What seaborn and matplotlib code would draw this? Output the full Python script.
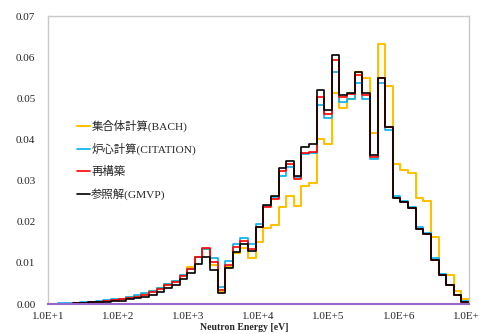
import numpy as np
import pandas as pd
import matplotlib
matplotlib.use("Agg")
import matplotlib.pyplot as plt
from matplotlib.ticker import FixedLocator, NullLocator
import seaborn as sns

# 55-group fast structure, lethargy width 0.25 from 10 MeV (lowest bound 10 eV)
e_top = 1.0e7
du = 0.25
n_groups = 55

# group fluxes from low energy to high energy
bach = [0.0001, 0.0001, 0.0001, 0.0002, 0.0003, 0.0005, 0.0006, 0.0008, 0.0010, 0.0012,
        0.0016, 0.0020, 0.0025, 0.0031, 0.0039, 0.0048, 0.0057, 0.0070, 0.0089, 0.0115,
        0.0134, 0.0095, 0.0030, 0.0089, 0.0123, 0.0135, 0.0113, 0.0151, 0.0184, 0.0192,
        0.0235, 0.0263, 0.0239, 0.0288, 0.0293, 0.0400, 0.0388, 0.0514, 0.0476, 0.0498,
        0.0565, 0.0549, 0.0416, 0.0632, 0.0530, 0.0340, 0.0326, 0.0318, 0.0258, 0.0251,
        0.0164, 0.0070, 0.0070, 0.0032, 0.0012]
citation = [0.0001, 0.0002, 0.0002, 0.0003, 0.0004, 0.0005, 0.0007, 0.0009, 0.0011, 0.0013,
            0.0017, 0.0021, 0.0026, 0.0032, 0.0039, 0.0048, 0.0057, 0.0070, 0.0085, 0.0114,
            0.0134, 0.0111, 0.0041, 0.0105, 0.0145, 0.0161, 0.0147, 0.0194, 0.0237, 0.0259,
            0.0311, 0.0334, 0.0308, 0.0365, 0.0368, 0.0484, 0.0451, 0.0563, 0.0492, 0.0498,
            0.0536, 0.0498, 0.0352, 0.0538, 0.0423, 0.0262, 0.0250, 0.0236, 0.0186, 0.0172,
            0.0112, 0.0072, 0.0047, 0.0023, 0.0007]
recon = [0.0001, 0.0001, 0.0001, 0.0002, 0.0003, 0.0004, 0.0006, 0.0007, 0.0009, 0.0011,
         0.0014, 0.0018, 0.0023, 0.0029, 0.0036, 0.0045, 0.0054, 0.0068, 0.0084, 0.0115,
         0.0135, 0.0103, 0.0034, 0.0095, 0.0139, 0.0154, 0.0133, 0.0186, 0.0235, 0.0255,
         0.0324, 0.0340, 0.0303, 0.0368, 0.0370, 0.0502, 0.0462, 0.0593, 0.0504, 0.0510,
         0.0557, 0.0508, 0.0358, 0.0550, 0.0429, 0.0258, 0.0248, 0.0234, 0.0183, 0.0170,
         0.0108, 0.0071, 0.0046, 0.0022, 0.0006]
gmvp = [0.0001, 0.0001, 0.0001, 0.0002, 0.0003, 0.0004, 0.0005, 0.0006, 0.0007, 0.0008,
        0.0011, 0.0014, 0.0018, 0.0023, 0.0029, 0.0038, 0.0047, 0.0060, 0.0075, 0.0097,
        0.0115, 0.0083, 0.0027, 0.0087, 0.0127, 0.0146, 0.0130, 0.0186, 0.0241, 0.0263,
        0.0330, 0.0348, 0.0312, 0.0382, 0.0389, 0.0520, 0.0472, 0.0605, 0.0508, 0.0514,
        0.0563, 0.0514, 0.0362, 0.0550, 0.0429, 0.0257, 0.0247, 0.0233, 0.0182, 0.0169,
        0.0107, 0.0070, 0.0045, 0.0022, 0.0006]

labels = ["集合体計算(BACH)", "炉心計算(CITATION)", "再構築", "参照解(GMVP)"]
colors = ["#FFC000", "#00B0F0", "#FF0000", "#000000"]
widths = [1.5, 1.2, 1.2, 1.2]
x_ticks = [1e1, 1e2, 1e3, 1e4, 1e5, 1e6, 1e7]
x_ticklabels = ["1.0E+1", "1.0E+2", "1.0E+3", "1.0E+4", "1.0E+5", "1.0E+6", "1.0E+7"]
y_ticks = [0.0, 0.01, 0.02, 0.03, 0.04, 0.05, 0.06, 0.07]

# lower group bounds, ascending, plus the top edge for the last step
upper = e_top * np.exp(-du * np.arange(n_groups))
lower = np.append(upper[1:], 10.0)[::-1]
x_step = np.append(lower, e_top)

sns.set_style("white")
plt.rcParams["font.family"] = ["Liberation Serif", "Noto Sans CJK JP"]

fig = plt.figure(figsize=(4.79, 3.34), dpi=100)
ax = fig.add_axes([48 / 479, 1 - 304 / 334, 421 / 479, 288 / 334])

for vals, lab, c, w in zip([bach, citation, recon, gmvp], labels, colors, widths):
    df = pd.DataFrame({"E": x_step, "flux": vals + [vals[-1]]})
    sns.lineplot(data=df, x="E", y="flux", ax=ax, color=c, lw=w,
                 drawstyle="steps-post", label=lab, sort=False)

ax.set_xscale("log")
ax.set_xlim(1e1, 1e7)
ax.set_ylim(0, 0.07)
ax.xaxis.set_major_locator(FixedLocator(x_ticks))
ax.xaxis.set_minor_locator(NullLocator())
ax.set_xticklabels(x_ticklabels)
ax.set_yticks(y_ticks)
ax.set_yticklabels(["%.2f" % v for v in y_ticks])
ax.tick_params(axis="both", length=0, labelsize=8)
ax.tick_params(axis="y", pad=9)
ax.tick_params(axis="x", pad=6)

ax.set_xlabel("Neutron Energy [eV]", fontsize=7, fontweight="bold")
ax.xaxis.set_label_coords((244 - 48) / 421, -0.065)
ax.set_ylabel("")

for s in ["left", "top", "right"]:
    ax.spines[s].set_color("#C8C8C8")
    ax.spines[s].set_linewidth(1.0)
ax.spines["bottom"].set_color("#9966CC")
ax.spines["bottom"].set_linewidth(1.5)

ax.legend(loc="upper left", bbox_to_anchor=((77 - 48) / 421, (304 - 120) / 288),
          frameon=False, fontsize=8.2, handlelength=1.1, handletextpad=0.15,
          labelspacing=0.95, borderpad=0, borderaxespad=0)

fig.savefig("out.png", dpi=100)
